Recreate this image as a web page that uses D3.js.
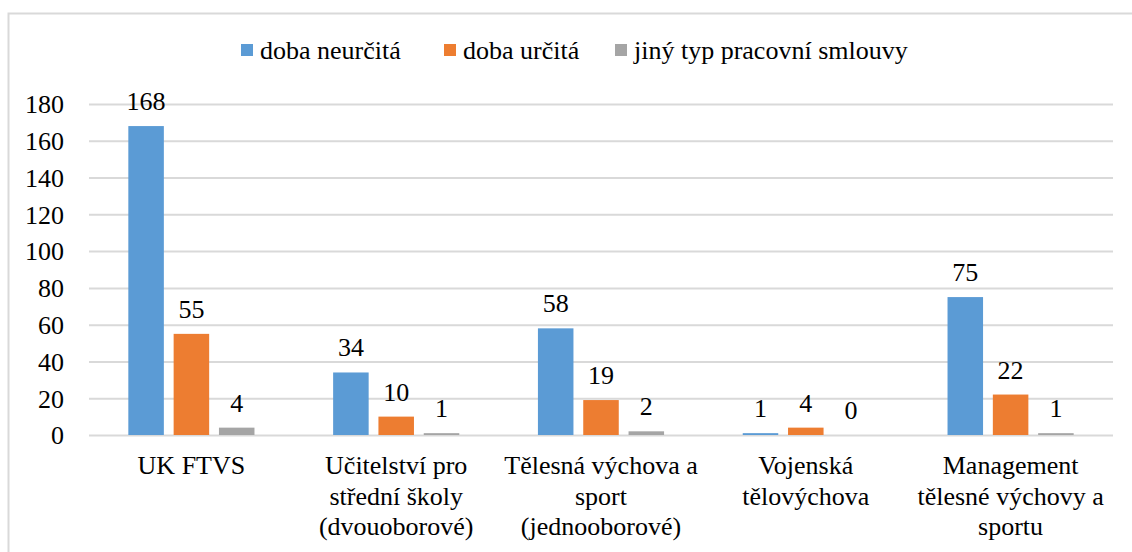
<!DOCTYPE html>
<html>
  <head>
    <meta charset="utf-8">
    <script src="https://d3js.org/d3.v7.min.js"></script>
    <style>
      body { margin: 0; }
      svg text, svg tspan { font-family: "Times New Roman", "Liberation Serif", Tinos, serif !important; }
    </style>
  </head>
  <body>
    <script>
      // data
      var categories = [
        ["UK FTVS"],
        ["Učitelství pro", "střední školy", "(dvouoborové)"],
        ["Tělesná výchova a", "sport", "(jednooborové)"],
        ["Vojenská", "tělovýchova"],
        ["Management", "tělesné výchovy a", "sportu"]
      ];
      var seriesNames = ["doba neurčitá", "doba určitá", "jiný typ pracovní smlouvy"];
      var seriesColors = ["#5b9bd5", "#ed7d31", "#a5a5a5"];
      var neurcita = [168, 34, 58, 1, 75];
      var urcita = [55, 10, 19, 4, 22];
      var jiny = [4, 1, 2, 0, 1];
      var yTicks = [0, 20, 40, 60, 80, 100, 120, 140, 160, 180];

      var values = [neurcita, urcita, jiny];
      var width = 1132, height = 552;
      var fontSize = "26px";

      var svg = d3.select("body").append("svg")
        .attr("width", width)
        .attr("height", height);

      function styleText(sel) {
        return sel.style("font-size", fontSize).attr("fill", "#000");
      }

      // chart frame
      svg.append("rect")
        .attr("x", 8.5).attr("y", 13.5)
        .attr("width", 1300).attr("height", 700)
        .attr("fill", "none")
        .attr("stroke", "#d9d9d9")
        .attr("stroke-width", 2);

      var plot = { left: 89, right: 1113, top: 104, bottom: 435 };

      var y = d3.scaleLinear().domain([0, 180]).range([plot.bottom, plot.top]);
      var x0 = d3.scaleBand()
        .domain(d3.range(categories.length))
        .range([plot.left, plot.right]);
      var x1 = d3.scaleBand()
        .domain(d3.range(seriesNames.length))
        .range([0, x0.bandwidth()])
        .paddingInner(0.216)
        .paddingOuter(0.868);

      // gridlines + y labels
      var yAxis = svg.append("g")
        .attr("transform", "translate(" + plot.left + ",0)")
        .call(d3.axisLeft(y).tickValues(yTicks).tickSize(-(plot.right - plot.left)).tickPadding(25));
      yAxis.attr("font-family", null).attr("font-size", null);
      yAxis.select(".domain").remove();
      yAxis.selectAll(".tick line").attr("stroke", "#d9d9d9").attr("stroke-width", 2);
      styleText(yAxis.selectAll(".tick text")).attr("dy", "0.34em");

      // bars
      var groups = svg.selectAll("g.series")
        .data(values)
        .enter().append("g")
          .attr("class", "series");

      groups.each(function(vals, si) {
        var g = d3.select(this);
        g.selectAll("rect")
          .data(vals)
          .enter().append("rect")
            .attr("x", function(d, ci) { return x0(ci) + x1(si); })
            .attr("y", function(d) { return y(d); })
            .attr("width", x1.bandwidth())
            .attr("height", function(d) { return y(0) - y(d); })
            .attr("fill", seriesColors[si]);
        styleText(g.selectAll("text")
          .data(vals)
          .enter().append("text"))
            .attr("x", function(d, ci) { return x0(ci) + x1(si) + x1.bandwidth() / 2; })
            .attr("y", function(d) { return y(d) - 16; })
            .attr("text-anchor", "middle")
            .text(function(d) { return d; });
      });

      // category labels
      var catLabels = styleText(svg.append("g").selectAll("text")
        .data(categories)
        .enter().append("text"))
          .attr("x", function(d, i) { return x0(i) + x0.bandwidth() / 2; })
          .attr("y", 474)
          .attr("text-anchor", "middle");
      catLabels.selectAll("tspan")
        .data(function(d) { return d; })
        .enter().append("tspan")
          .attr("x", function() { return d3.select(this.parentNode).attr("x"); })
          .attr("dy", function(d, i) { return i == 0 ? 0 : 30.5; })
          .text(function(d) { return d; });

      // legend
      var legendX = [241, 444, 615];
      var legend = svg.append("g").selectAll("g")
        .data(seriesNames)
        .enter().append("g")
          .attr("transform", function(d, i) { return "translate(" + legendX[i] + ",0)"; });
      legend.append("rect")
        .attr("y", 44).attr("width", 12).attr("height", 12)
        .attr("fill", function(d, i) { return seriesColors[i]; });
      styleText(legend.append("text"))
        .attr("x", 19).attr("y", 59)
        .text(function(d) { return d; });
    </script>
  </body>
</html>
